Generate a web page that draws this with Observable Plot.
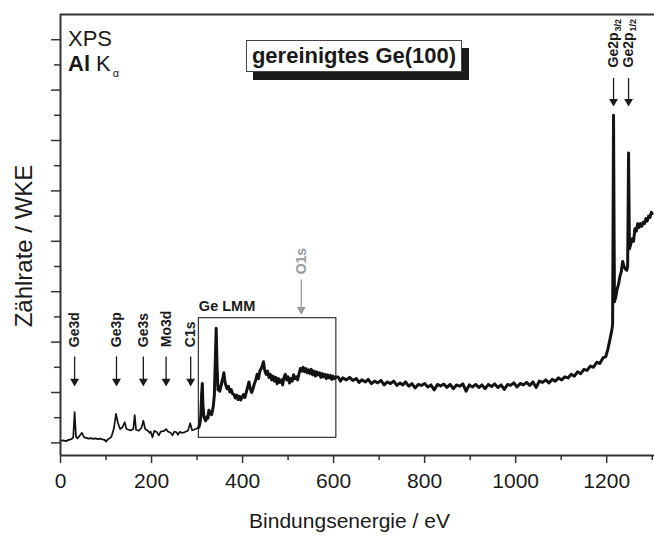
<!DOCTYPE html>
<html><head><meta charset="utf-8">
<script src="https://cdn.jsdelivr.net/npm/d3@7"></script>
<script src="https://cdn.jsdelivr.net/npm/@observablehq/plot@0.6"></script>
<style>
body{margin:0;background:#fff;font-family:"Liberation Sans",Arial,sans-serif;}
#wrap{position:relative;width:654px;height:537px;}
#wrap svg{display:block;}
.ov{position:absolute;line-height:1;color:#1a1a1a;white-space:nowrap;}
#xps{left:68px;top:28px;font-size:22px;}
#alk{left:68px;top:53px;font-size:22px;}
#alk sub{font-size:11px;position:relative;top:6px;vertical-align:baseline;margin-left:2px;}
#title{left:246px;top:40px;width:214px;height:30px;border:1px solid #444;background:#fff;
  box-shadow:7px 8px 0 0 #1a1a1a;font-weight:bold;font-size:22px;line-height:30px;text-align:center;}
</style></head><body><div id="wrap"></div>
<script>
// XPS survey spectrum: [binding energy (eV), counts (arb. units)]
const spectrum = [
[0,0.08],[6,0.10],[12,0.07],[18,0.12],[24,0.15],[28,0.22],[31,1.22],[34,0.25],[37,0.18],[42,0.28],[47,0.40],[52,0.22],
[57,0.20],[62,0.17],[67,0.19],[72,0.16],[77,0.18],[82,0.15],[87,0.17],[92,0.14],[97,0.12],[100,0.05],[104,0.14],[108,0.18],
[112,0.25],[117,0.55],[122,1.15],[126,0.80],[131,0.55],[136,0.62],[141,0.82],[145,0.55],[150,0.52],[155,0.50],[160,0.55],
[163,1.10],[166,0.52],[172,0.48],[178,0.60],[182,0.88],[186,0.55],[192,0.48],[196,0.40],[198,0.45],[202,0.22],[206,0.48],
[212,0.42],[216,0.30],[220,0.45],[228,0.48],[232,0.55],[236,0.45],[242,0.40],[246,0.30],[250,0.45],[255,0.42],[258,0.32],
[262,0.44],[266,0.40],[272,0.42],[276,0.45],[280,0.48],[285,0.78],[289,0.50],[293,0.52],[297,0.55],[301,0.58],[304,0.62],
[306,0.75],[308,1.0],[310,1.9],[311.5,2.36],[313,1.5],[315,1.05],[317,0.95],[319,0.88],[322,1.05],[324,0.98],[326,1.30],
[328,1.15],[330,1.22],[332,1.12],[334,1.28],[336,1.5],[338,1.9],[340,3.2],[342,4.55],[344,3.0],[346,2.1],[348,2.25],
[350,2.05],[352,2.2],[355,2.45],[357,2.6],[359,2.78],[361,2.45],[363,2.3],[366,2.15],[369,2.25],[372,2.02],[375,2.12],
[378,1.95],[381,1.92],[384,1.78],[387,1.9],[390,1.72],[393,1.85],[396,1.7],[399,1.82],[402,1.92],[405,1.8],[408,2.0],
[411,2.2],[414,2.42],[417,2.15],[420,2.0],[423,2.15],[426,2.35],[429,2.5],[432,2.72],[435,2.55],[438,2.85],[441,2.95],
[444,3.1],[446,3.22],[448,2.95],[450,2.8],[452,2.72],[455,2.85],[458,2.6],[461,2.72],[464,2.5],[467,2.65],[470,2.45],
[473,2.6],[476,2.35],[479,2.55],[482,2.4],[485,2.5],[488,2.3],[491,2.6],[494,2.72],[497,2.5],[500,2.62],[503,2.38],
[506,2.55],[509,2.45],[512,2.7],[515,2.55],[518,2.62],[521,2.5],[524,2.75],[527,2.95],[530,2.85],[533,3.0],[536,2.82],
[539,2.95],[542,2.78],[545,2.9],[548,2.75],[551,2.92],[554,2.7],[557,2.85],[560,2.65],[563,2.82],[566,2.7],[569,2.78],
[572,2.6],[575,2.75],[578,2.62],[581,2.72],[584,2.55],[587,2.7],[590,2.58],[593,2.68],[596,2.52],[599,2.65],[602,2.55],
[605,2.62],[610,2.62],[615,2.45],[620,2.58],[628,2.50],[635,2.60],[642,2.48],[650,2.55],[656,2.40],[662,2.50],[670,2.42],
[676,2.52],[683,2.35],[690,2.45],[697,2.38],[704,2.48],[711,2.30],[718,2.42],[725,2.35],[732,2.45],[739,2.28],[746,2.38],
[752,2.30],[758,2.42],[765,2.25],[772,2.35],[779,2.18],[786,2.32],[793,2.28],[800,2.36],[807,2.22],[814,2.30],[821,2.10],
[828,2.32],[835,2.26],[842,2.34],[849,2.20],[856,2.32],[863,2.15],[870,2.30],[877,2.25],[884,2.34],[891,2.05],[898,2.30],
[905,2.22],[912,2.32],[919,2.20],[926,2.30],[933,2.15],[940,2.32],[947,2.24],[954,2.34],[961,2.20],[968,2.30],[975,2.12],
[982,2.32],[989,2.28],[996,2.38],[1003,2.22],[1010,2.36],[1017,2.30],[1024,2.40],[1031,2.28],[1038,2.42],[1045,2.20],
[1052,2.45],[1059,2.40],[1066,2.50],[1073,2.38],[1080,2.52],[1087,2.45],[1094,2.58],[1101,2.50],[1108,2.62],[1115,2.58],
[1122,2.72],[1129,2.65],[1136,2.82],[1143,2.75],[1150,2.92],[1157,2.88],[1164,3.05],[1171,3.00],[1178,3.20],[1185,3.15],
[1192,3.38],[1198,3.42],[1203,3.75],[1207,4.10],[1211,4.45],[1213,4.7],[1215,13.0],[1217,5.6],[1220,5.8],[1223,6.1],
[1226,6.3],[1229,6.6],[1232,6.8],[1235,7.2],[1238,7.0],[1241,6.9],[1244,6.85],[1246,7.0],[1248,11.5],[1250,7.7],[1253,7.9],
[1256,8.1],[1259,8.0],[1262,8.5],[1265,8.4],[1268,8.7],[1271,8.55],[1274,8.7],[1277,8.6],[1280,8.75],[1283,8.7],[1286,8.9],
[1289,8.8],[1292,9.0],[1295,8.95],[1298,9.15],[1300,9.1]
];

// axes
const xDomain = [0, 1305];
const yDomain = [-0.5, 17];
const xMajorTicks = [0, 200, 400, 600, 800, 1000, 1200];
const xMinorTicks = [100, 300, 500, 700, 900, 1100, 1300];
const yMajorTicks = [0, 2, 4, 6, 8, 10, 12, 14, 16];
const yMinorTicks = [1, 3, 5, 7, 9, 11, 13, 15];

// peak annotations (low-energy peaks)
const lowLabels = ["Ge3d", "Ge3p", "Ge3s", "Mo3d", "C1s"];
const lowEnergies = [31, 123, 182, 232, 286];
const lowLabelBase = 3.80, lowArrowTop = 3.41, lowArrowTip = 2.36;

// Ge2p doublet
const ge2pLabels = ["3/2", "1/2"];
const ge2pEnergies = [1215, 1248];
const ge2pLabelBase = 14.9, ge2pArrowTop = 14.46, ge2pArrowTip = 13.47;

// O1s (not present)
const o1sEnergy = 529;
const o1sLabelBase = 6.69, o1sArrowTop = 6.46, o1sArrowTip = 5.21;

// Ge LMM Auger region box
const lmmRange = [304, 606];
const lmmCounts = [0.2, 4.95];
const lmmLabelY = 5.23;

// start of the noisy (thick) part of the trace
const noisyFrom = 304;

const low = lowLabels.map((t, i) => ({t, e: lowEnergies[i]}));
const ge2p = ge2pLabels.map((t, i) => ({t, e: ge2pEnergies[i]}));
const noisy = spectrum.filter(d => d[0] >= noisyFrom);

const ink = "#1a1a1a";
const plot = Plot.plot({
  width: 654, height: 537,
  marginLeft: 60, marginRight: 0, marginTop: 14, marginBottom: 82,
  x: {domain: xDomain},
  y: {domain: yDomain},
  style: {fontFamily: "'Liberation Sans', Arial, sans-serif", color: ink, background: "white", overflow: "visible"},
  marks: [
    // Ge LMM box
    Plot.rect([lmmRange], {x1: d => d[0], x2: d => d[1], y1: lmmCounts[0], y2: lmmCounts[1], fill: "none", stroke: "#333", strokeWidth: 1.2}),
    Plot.text(["Ge LMM"], {x: lmmRange[0], y: lmmLabelY, text: d => d, textAnchor: "start", lineAnchor: "bottom", fontWeight: "bold", fontSize: 14.5, fill: ink}),
    // spectrum: thick noisy part + thin trace
    Plot.line(noisy, {x: d => d[0], y: d => d[1], stroke: "#1c1c1c", strokeWidth: 3, strokeLinejoin: "round"}),
    Plot.line(spectrum, {x: d => d[0], y: d => d[1], stroke: "#111", strokeWidth: 1.7, strokeLinejoin: "round"}),
    // low energy labels and arrows
    Plot.text(low, {x: "e", y: lowLabelBase, text: "t", rotate: -90, textAnchor: "start", lineAnchor: "middle", fontWeight: "bold", fontSize: 14, fill: ink}),
    Plot.ruleX(low, {x: "e", y1: lowArrowTop, y2: lowArrowTip, stroke: ink, strokeWidth: 1.3}),
    Plot.dot(low, {x: "e", y: lowArrowTip, symbol: "triangle", rotate: 180, r: 3.3, dy: -2, fill: ink, stroke: "none"}),
    // Ge2p labels with subscripts
    Plot.text(ge2p, {x: "e", y: ge2pLabelBase, text: () => "Ge2p", rotate: -90, textAnchor: "start", lineAnchor: "middle", fontWeight: "bold", fontSize: 14, fill: ink}),
    Plot.text(ge2p, {x: "e", y: ge2pLabelBase, text: "t", rotate: -90, textAnchor: "start", lineAnchor: "middle", dx: 5, dy: -36, fontWeight: "bold", fontSize: 9, fill: ink}),
    Plot.ruleX(ge2p, {x: "e", y1: ge2pArrowTop, y2: ge2pArrowTip, stroke: ink, strokeWidth: 1.3}),
    Plot.dot(ge2p, {x: "e", y: ge2pArrowTip, symbol: "triangle", rotate: 180, r: 3.3, dy: -2, fill: ink, stroke: "none"}),
    // O1s in gray
    Plot.text(["O1s"], {x: o1sEnergy, y: o1sLabelBase, text: d => d, rotate: -90, textAnchor: "start", lineAnchor: "middle", fontWeight: "bold", fontSize: 14, fill: "#9a9a9a"}),
    Plot.ruleX([o1sEnergy], {y1: o1sArrowTop, y2: o1sArrowTip, stroke: "#9a9a9a", strokeWidth: 1.3}),
    Plot.dot([o1sEnergy], {x: d => d, y: o1sArrowTip, symbol: "triangle", rotate: 180, r: 3.3, dy: -2, fill: "#9a9a9a", stroke: "none"}),
    // axes
    Plot.axisX(xMajorTicks, {tickSize: 8, tickPadding: 10, fontSize: 21, label: null, stroke: "#333", strokeWidth: 1.5, tickFormat: d => String(d)}),
    Plot.axisX(xMinorTicks, {tickSize: 5, label: null, stroke: "#333", strokeWidth: 1.5, tickFormat: () => ""}),
    Plot.axisY(yMajorTicks, {tickSize: 9, label: null, stroke: "#333", strokeWidth: 1.5, tickFormat: () => ""}),
    Plot.axisY(yMinorTicks, {tickSize: 6, label: null, stroke: "#333", strokeWidth: 1.5, tickFormat: () => ""}),
    Plot.ruleX([xDomain[0]], {stroke: "#333", strokeWidth: 2}),
    Plot.ruleY(yDomain, {stroke: "#333", strokeWidth: 2}),
    Plot.text(["Bindungsenergie / eV"], {frameAnchor: "bottom", text: d => d, dy: 66, dx: -8, textAnchor: "middle", lineAnchor: "middle", fontSize: 21, fill: ink}),
    Plot.text(["Zählrate / WKE"], {frameAnchor: "left", text: d => d, rotate: -90, dx: -36, dy: 11, textAnchor: "middle", lineAnchor: "middle", fontSize: 24, fill: ink})
  ]
});

const wrap = document.getElementById("wrap");
wrap.appendChild(plot);
wrap.insertAdjacentHTML("beforeend",
  '<div class="ov" id="xps">XPS</div>' +
  '<div class="ov" id="alk"><b>Al</b> K<sub>α</sub></div>' +
  '<div class="ov" id="title">gereinigtes Ge(100)</div>');
</script></body></html>
